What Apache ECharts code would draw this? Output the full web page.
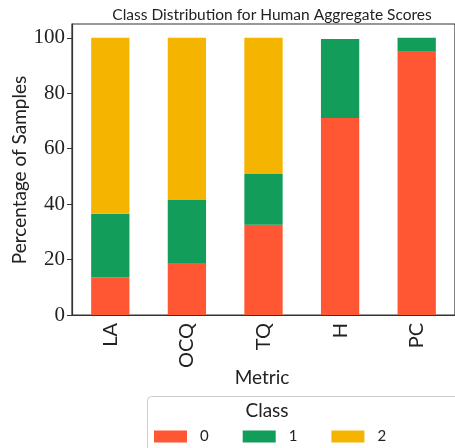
<!DOCTYPE html>
<html><head><meta charset="utf-8">
<script src="https://cdn.jsdelivr.net/npm/echarts@6/dist/echarts.min.js"></script>
<style>html,body{margin:0;padding:0;background:#fff}#c{width:455px;height:448px}</style>
</head><body><div id="c"></div>
<script>
const categories = ['LA', 'OCQ', 'TQ', 'H', 'PC'];
const class0 = [13.5, 18.8, 32.6, 71.1, 95.0];
const class1 = [23.0, 22.7, 18.3, 28.5, 5.0];
const class2 = [63.5, 58.5, 49.1, 0.0, 0.0];
const classNames = ['0', '1', '2'];
const colors = ['#FF5733', '#129E5A', '#F5B400'];

const chart = echarts.init(document.getElementById('c'));
const sans = 'Lato, "DejaVu Sans", sans-serif';
const serif = '"Liberation Serif", "DejaVu Serif", serif';
chart.setOption({
  animation: false,
  grid: {left: 72, top: 24, bottom: 133, right: -7, show: true, borderColor: '#333', borderWidth: 1.2},
  title: {text: 'Class Distribution for Human Aggregate Scores', left: 267, textAlign: 'center', top: 2,
    textStyle: {fontFamily: sans, fontSize: 15.5, fontWeight: 'normal', color: '#222'}},
  xAxis: {type: 'category', data: categories,
    axisLine: {lineStyle: {color: '#333', width: 1.2}},
    axisTick: {alignWithLabel: true, length: 5, lineStyle: {color: '#333'}},
    axisLabel: {rotate: 90, fontFamily: sans, fontSize: 20, color: '#222', margin: 8}},
  yAxis: {type: 'value', min: 0, max: 105, interval: 20,
    splitLine: {show: false},
    axisLine: {show: true, lineStyle: {color: '#333', width: 1.2}},
    axisTick: {show: true, length: 5, lineStyle: {color: '#333'}},
    axisLabel: {fontFamily: serif, fontSize: 21, color: '#222', margin: 7}},
  legend: {data: classNames, left: 154, top: 429, padding: 0, itemWidth: 33, itemHeight: 12, itemGap: 34,
    icon: 'rect', textStyle: {fontFamily: sans, fontSize: 15, color: '#222', padding: [0, 0, 0, 8]}},
  graphic: [
    {type: 'rect', left: 147, top: 396, shape: {width: 330, height: 70, r: 4}, style: {fill: '#fff', stroke: '#ccc', lineWidth: 1}, z: -1},
    {type: 'text', x: 267, y: 411, style: {text: 'Class', font: '19px ' + sans, fill: '#222', align: 'center', verticalAlign: 'middle'}},
    {type: 'text', x: 262, y: 378, style: {text: 'Metric', font: '19px ' + sans, fill: '#222', align: 'center', verticalAlign: 'middle'}},
    {type: 'text', x: 20, y: 170, rotation: Math.PI / 2, style: {text: 'Percentage of Samples', font: '19px ' + sans, fill: '#222', align: 'center', verticalAlign: 'middle'}}
  ],
  series: [class0, class1, class2].map((d, i) => ({
    name: classNames[i], type: 'bar', stack: 'all', data: d, barWidth: '50%', itemStyle: {color: colors[i]}
  }))
});
</script></body></html>
